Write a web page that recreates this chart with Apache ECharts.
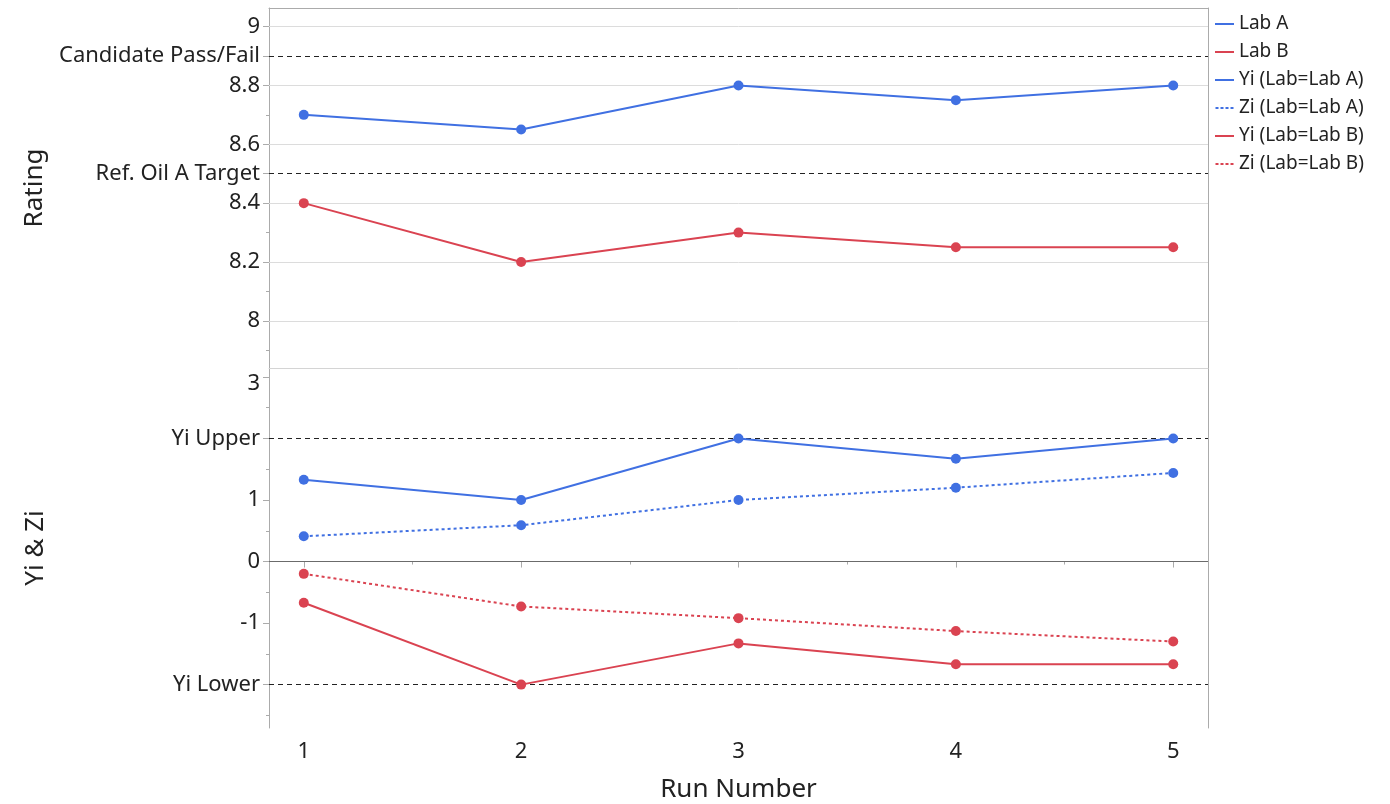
<!DOCTYPE html>
<html>
<head>
<meta charset="utf-8">
<script src="https://cdn.jsdelivr.net/npm/echarts@6/dist/echarts.min.js"></script>
<style>
html,body{margin:0;padding:0;background:#fff;}
#chart{width:1390px;height:804px;}
</style>
</head>
<body>
<div id="chart"></div>
<script>
// ---- data ----
const runs = [1, 2, 3, 4, 5];
const ratingLabA = [8.7, 8.65, 8.8, 8.75, 8.8];
const ratingLabB = [8.4, 8.2, 8.3, 8.25, 8.25];
const yiLabA = [1.33, 1.0, 2.0, 1.67, 2.0];
const ziLabA = [0.41, 0.59, 1.0, 1.2, 1.44];
const yiLabB = [-0.67, -2.0, -1.33, -1.67, -1.67];
const ziLabB = [-0.2, -0.73, -0.92, -1.13, -1.3];

const topTickValues = [8, 8.2, 8.4, 8.5, 8.6, 8.8, 8.9, 9];
const topTickLabels = ['8', '8.2', '8.4', 'Ref. Oil A Target', '8.6', '8.8', 'Candidate Pass/Fail', '9'];
const topMinorTicks = [7.9, 8.1, 8.3, 8.7];
const topGridValues = [8, 8.2, 8.4, 8.6, 8.8, 9];
const topRefValues = [8.5, 8.9];

const botTickValues = [-2, -1, 0, 1, 2, 3];
const botTickLabels = ['Yi Lower', '-1', '0', '1', 'Yi Upper', '{low|3}'];
const botMinorTicks = [-2.5, -1.5, -0.5, 0.5, 1.5, 2.5];
const botRefValues = [-2, 2];
const botZeroValue = [0];

const xTickValues = [1, 2, 3, 4, 5];
const xMinorTicks = [1.5, 2.5, 3.5, 4.5];

const BLUE = '#4070E2';
const RED = '#DA4351';
const FONT = 'Noto Sans';
const AXIS_GRAY = '#ababab';

function pairs(ys) { return runs.map((r, i) => [r, ys[i]]); }
function lookup(vals, labels) {
  return function (v) {
    for (let i = 0; i < vals.length; i++) if (Math.abs(vals[i] - v) < 1e-9) return labels[i];
    return '';
  };
}

const chart = echarts.init(document.getElementById('chart'), null, {renderer: 'canvas'});

const xBase = {min: 0.84, max: 5.16, type: 'value'};
const hidden = {axisTick: {show: false}, axisLabel: {show: false}, splitLine: {show: false}};
const DOTS = 'path://M0,0H3V2H0Z M5,0H8V2H5Z M10,0H13V2H10Z M15,0H18V2H15Z';

const option = {
  animation: false,
  backgroundColor: '#fff',
  textStyle: {fontFamily: FONT},
  grid: [
    {left: 269, right: 182, top: 8, height: 360, show: false},
    {left: 269, right: 182, top: 368, height: 360, show: false}
  ],
  xAxis: [
    Object.assign({}, xBase, hidden, {gridIndex: 0, position: 'top', axisLine: {show: true, lineStyle: {color: AXIS_GRAY}}}),
    Object.assign({}, xBase, hidden, {gridIndex: 0, position: 'bottom', axisLine: {show: true, lineStyle: {color: '#d4d4d4'}}}),
    Object.assign({}, xBase, {
      gridIndex: 1, position: 'bottom',
      name: 'Run Number', nameLocation: 'middle', nameGap: 49,
      nameTextStyle: {fontSize: 26, color: '#222', fontFamily: FONT},
      axisLine: {show: true, lineStyle: {color: AXIS_GRAY}},
      axisTick: {show: true, length: 6, lineStyle: {color: AXIS_GRAY}, customValues: xTickValues},
      axisLabel: {show: true, fontSize: 22, color: '#222', margin: 13, fontFamily: FONT, customValues: xTickValues, formatter: v => String(v)},
      splitLine: {show: false}
    }),
    Object.assign({}, xBase, {
      gridIndex: 1, position: 'bottom',
      axisLine: {show: false},
      axisTick: {show: true, length: 3, lineStyle: {color: AXIS_GRAY}, customValues: xMinorTicks},
      axisLabel: {show: false}, splitLine: {show: false}
    })
  ],
  yAxis: [
    {
      gridIndex: 0, type: 'value', min: 7.84, max: 9.063, position: 'left',
      name: 'Rating', nameLocation: 'middle', nameGap: 220,
      nameTextStyle: {fontSize: 26, color: '#222', fontFamily: FONT},
      axisLine: {show: true, lineStyle: {color: AXIS_GRAY}},
      axisTick: {show: true, length: 6, lineStyle: {color: AXIS_GRAY}, customValues: topTickValues},
      axisLabel: {show: true, fontSize: 22, color: '#222', margin: 9, fontFamily: FONT, customValues: topTickValues, formatter: lookup(topTickValues, topTickLabels)},
      splitLine: {show: false}
    },
    {
      gridIndex: 0, type: 'value', min: 7.84, max: 9.063, position: 'left',
      axisLine: {show: false},
      axisTick: {show: true, length: 3, lineStyle: {color: AXIS_GRAY}, customValues: topMinorTicks},
      axisLabel: {show: false}, splitLine: {show: false}
    },
    Object.assign({gridIndex: 0, type: 'value', min: 7.84, max: 9.063, position: 'right', axisLine: {show: true, lineStyle: {color: AXIS_GRAY}}}, hidden),
    {
      gridIndex: 1, type: 'value', min: -2.705, max: 3.145, position: 'left',
      name: 'Yi & Zi', nameLocation: 'middle', nameGap: 220,
      nameTextStyle: {fontSize: 26, color: '#222', fontFamily: FONT},
      axisLine: {show: true, lineStyle: {color: AXIS_GRAY}},
      axisTick: {show: true, length: 6, lineStyle: {color: AXIS_GRAY}, customValues: botTickValues},
      axisLabel: {
        show: true, fontSize: 22, color: '#222', margin: 9, fontFamily: FONT,
        customValues: botTickValues, formatter: lookup(botTickValues, botTickLabels),
        rich: {low: {fontSize: 22, color: '#222', fontFamily: FONT, padding: [13, 0, 0, 0]}}
      },
      splitLine: {show: false}
    },
    {
      gridIndex: 1, type: 'value', min: -2.705, max: 3.145, position: 'left',
      axisLine: {show: false},
      axisTick: {show: true, length: 3, lineStyle: {color: AXIS_GRAY}, customValues: botMinorTicks},
      axisLabel: {show: false}, splitLine: {show: false}
    },
    Object.assign({gridIndex: 1, type: 'value', min: -2.705, max: 3.145, position: 'right', axisLine: {show: true, lineStyle: {color: AXIS_GRAY}}}, hidden)
  ],
  legend: {
    orient: 'vertical', left: 1210, top: 9,
    itemWidth: 19, itemHeight: 2, itemGap: 8,
    textStyle: {fontSize: 19, color: '#222', fontFamily: FONT, lineHeight: 20},
    itemStyle: {borderWidth: 0},
    data: [
      {name: 'Lab A', icon: 'rect'},
      {name: 'Lab B', icon: 'rect'},
      {name: 'Yi (Lab=Lab A)', icon: 'rect'},
      {name: 'Zi (Lab=Lab A)', icon: DOTS},
      {name: 'Yi (Lab=Lab B)', icon: 'rect'},
      {name: 'Zi (Lab=Lab B)', icon: DOTS}
    ]
  },
  series: [
    {
      name: 'Lab A', type: 'line', xAxisIndex: 0, yAxisIndex: 0, data: pairs(ratingLabA),
      color: BLUE, symbol: 'circle', symbolSize: 10, showSymbol: true,
      lineStyle: {width: 2, color: BLUE}, itemStyle: {color: BLUE, borderWidth: 0},
      markLine: {
        z: 1, silent: true, symbol: ['none', 'none'], label: {show: false},
        lineStyle: {color: '#dcdcdc', width: 1, type: 'solid'},
        data: topGridValues.map(v => ({yAxis: v}))
      }
    },
    {
      name: 'Lab B', type: 'line', xAxisIndex: 0, yAxisIndex: 0, data: pairs(ratingLabB),
      color: RED, symbol: 'circle', symbolSize: 10,
      lineStyle: {width: 2, color: RED}, itemStyle: {color: RED, borderWidth: 0},
      markLine: {
        z: 1, silent: true, symbol: ['none', 'none'], label: {show: false},
        lineStyle: {color: '#222', width: 1, type: [5, 4]},
        data: topRefValues.map(v => ({yAxis: v}))
      }
    },
    {
      name: 'Yi (Lab=Lab A)', type: 'line', xAxisIndex: 2, yAxisIndex: 3, data: pairs(yiLabA),
      color: BLUE, symbol: 'circle', symbolSize: 10,
      lineStyle: {width: 2, color: BLUE}, itemStyle: {color: BLUE, borderWidth: 0},
      markLine: {
        z: 1, silent: true, symbol: ['none', 'none'], label: {show: false},
        lineStyle: {color: '#6b6b6b', width: 1, type: 'solid'},
        data: botZeroValue.map(v => ({yAxis: v}))
      }
    },
    {
      name: 'Zi (Lab=Lab A)', type: 'line', xAxisIndex: 2, yAxisIndex: 3, data: pairs(ziLabA),
      color: BLUE, symbol: 'circle', symbolSize: 10,
      lineStyle: {width: 2, color: BLUE, type: [3, 3]}, itemStyle: {color: BLUE, borderWidth: 0}
    },
    {
      name: 'Yi (Lab=Lab B)', type: 'line', xAxisIndex: 2, yAxisIndex: 3, data: pairs(yiLabB),
      color: RED, symbol: 'circle', symbolSize: 10,
      lineStyle: {width: 2, color: RED}, itemStyle: {color: RED, borderWidth: 0},
      markLine: {
        z: 1, silent: true, symbol: ['none', 'none'], label: {show: false},
        lineStyle: {color: '#222', width: 1, type: [5, 4]},
        data: botRefValues.map(v => ({yAxis: v}))
      }
    },
    {
      name: 'Zi (Lab=Lab B)', type: 'line', xAxisIndex: 2, yAxisIndex: 3, data: pairs(ziLabB),
      color: RED, symbol: 'circle', symbolSize: 10,
      lineStyle: {width: 2, color: RED, type: [3, 3]}, itemStyle: {color: RED, borderWidth: 0}
    }
  ]
};
chart.setOption(option);
</script>
</body>
</html>
